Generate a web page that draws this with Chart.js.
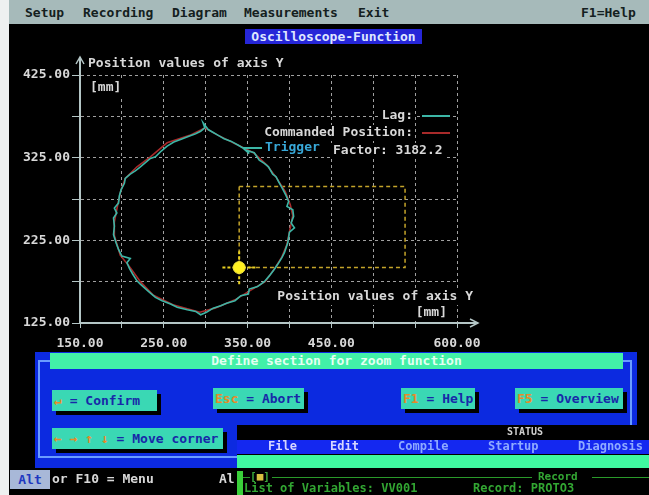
<!DOCTYPE html>
<html>
<head>
<meta charset="utf-8">
<script src="https://cdn.jsdelivr.net/npm/chart.js@4.4.1/dist/chart.umd.min.js"></script>
<style>
  html, body { margin: 0; padding: 0; width: 649px; height: 495px; overflow: hidden; background: #000;
    font-family: "DejaVu Sans Mono", "Liberation Mono", monospace; }
  #plot { position: absolute; left: 0; top: 0; z-index: 1; }
  .abs { position: absolute; white-space: pre; z-index: 2; }
  .txt { font-size: 13px; font-weight: bold; }
  .btn { background: #3ad8b4; color: #1828a8; font-size: 13px; font-weight: bold; line-height: 21px; padding-left: 2px; }
  .shadow { background: #000; }
  .hot { color: #e88a28; }
</style>
</head>
<body>
<canvas id="plot" width="649" height="495"></canvas>

<!-- left margin strip -->
<div class="abs" style="left:0;top:0;width:9px;height:495px;background:#eef0f0;"></div>

<!-- menu bar -->
<div class="abs" style="left:9px;top:0;width:640px;height:24px;background:#a6baba;"></div>
<div class="abs txt" style="left:25px;top:5px;color:#142020;">Setup</div>
<div class="abs txt" style="left:83px;top:5px;color:#142020;">Recording</div>
<div class="abs txt" style="left:172px;top:5px;color:#142020;">Diagram</div>
<div class="abs txt" style="left:244px;top:5px;color:#142020;">Measurements</div>
<div class="abs txt" style="left:358px;top:5px;color:#142020;">Exit</div>
<div class="abs txt" style="left:581px;top:5px;color:#142020;">F1=Help</div>

<!-- window title -->
<div class="abs txt" style="left:245px;top:29px;width:177px;height:15px;line-height:15px;text-align:center;background:#2626d8;color:#dfe6ff;">Oscilloscope-Function</div>

<!-- zoom dialog -->
<div class="abs" style="left:35px;top:352px;width:602px;height:116px;background:#0c2ae0;"></div>
<div class="abs" style="left:38px;top:360px;width:594px;height:98px;box-sizing:border-box;border:2px solid #6a9cff;"></div>
<div class="abs txt" style="left:50px;top:353px;width:573px;height:16px;line-height:16px;text-align:center;background:#42f0a8;color:#e4fff2;">Define section for zoom function</div>

<div class="abs shadow" style="left:56px;top:394px;width:105px;height:21px;"></div>
<div class="abs btn" style="left:52px;top:390px;width:103px;height:21px;"><span class="hot">↵</span> = Confirm</div>

<div class="abs shadow" style="left:217px;top:392px;width:91px;height:21px;"></div>
<div class="abs btn" style="left:213px;top:388px;width:89px;height:21px;"><span class="hot">Esc</span> = Abort</div>

<div class="abs shadow" style="left:405px;top:392px;width:74px;height:21px;"></div>
<div class="abs btn" style="left:401px;top:388px;width:72px;height:21px;"><span class="hot">F1</span> = Help</div>

<div class="abs shadow" style="left:519px;top:392px;width:108px;height:21px;"></div>
<div class="abs btn" style="left:515px;top:388px;width:106px;height:21px;"><span class="hot">F5</span> = Overview</div>

<div class="abs shadow" style="left:56px;top:432px;width:171px;height:21px;"></div>
<div class="abs btn" style="left:52px;top:428px;width:169px;height:21px;"><span class="hot">← → ↑ ↓</span> = Move corner</div>

<!-- bottom hint line -->
<div class="abs txt" style="left:10px;top:470px;width:40px;height:19px;line-height:19px;text-align:center;background:#a8b8d8;color:#2038c0;">Alt</div>
<div class="abs txt" style="left:52px;top:471px;color:#d8d8d8;">or F10 = Menu</div>
<div class="abs txt" style="left:219px;top:471px;color:#d8d8d8;">Al</div>

<!-- status window -->
<div class="abs" style="left:237px;top:425px;width:412px;height:70px;background:#000;"></div>
<div class="abs" style="left:507px;top:426px;font-size:10px;font-weight:bold;color:#d0d0d0;">STATUS</div>
<div class="abs" style="left:237px;top:440px;width:412px;height:14px;background:#1428f0;"></div>
<div class="abs txt" style="left:268px;top:439px;font-size:12px;color:#d6d6ff;">File</div>
<div class="abs txt" style="left:330px;top:439px;font-size:12px;color:#d6d6ff;">Edit</div>
<div class="abs txt" style="left:398px;top:439px;font-size:12px;color:#8eaaff;">Compile</div>
<div class="abs txt" style="left:488px;top:439px;font-size:12px;color:#8eaaff;">Startup</div>
<div class="abs txt" style="left:578px;top:439px;font-size:12px;color:#8eaaff;">Diagnosis</div>
<div class="abs" style="left:237px;top:455px;width:412px;height:13px;background:#40f8a0;"></div>
<div class="abs" style="left:237px;top:471px;width:6px;height:24px;background:#3ad03a;"></div>
<div class="abs" style="left:243px;top:477px;width:7px;height:0;border-top:1px solid #2a9a2a;"></div>
<div class="abs" style="left:250px;top:470px;font-size:11px;font-weight:bold;color:#3aa83a;">[<span style="color:#d8c040;">■</span>]</div>
<div class="abs" style="left:272px;top:477px;width:260px;height:0;border-top:1px solid #2a9a2a;"></div>
<div class="abs" style="left:538px;top:470px;font-size:11px;font-weight:bold;color:#34a834;">Record</div>
<div class="abs" style="left:592px;top:477px;width:57px;height:0;border-top:1px solid #2a9a2a;"></div>
<div class="abs" style="left:244px;top:481px;font-size:12px;font-weight:bold;color:#32a632;">List of Variables: VV001</div>
<div class="abs" style="left:473px;top:481px;font-size:12px;font-weight:bold;color:#32a632;">Record: PROTO3</div>

<script>
// Axis tick positions and the values that carry a printed label
const xTickValues = [150, 200, 250, 300, 350, 400, 450, 500, 550, 600];
const xLabelValues = [150, 250, 350, 450, 600];
const yTickValues = [125, 175, 225, 275, 325, 375, 425];
const yLabelValues = [125, 225, 325, 425];

// Actual (lagging) position of the Y axis, in mm
const lagX = [299,297,303,308,315,322,330,339,344,352,348,358,364,370,375,380,384,387,392,396,
              399,397,404,405,402,406,400,398,394,391,386,382,376,370,362,352,351,342,335,325,
              318,309,301,294,288,278,266,258,248,240,232,222,218,213,209,206,210,200,196,193,
              190,191,190,194,191,196,197,199,203,204,210,216,221,227,234,240,247,254,262,270,
              280,288,294,299];
const lagY = [361,367,359,356,352,348,345,340,337,330,334,331,322,318,314,305,302,296,287,279,
              272,266,262,254,246,240,235,222,210,204,196,190,182,175,169,166,160,158,152,149,
              146,143,138,135,139,141,144,148,152,156,163,172,176,184,191,198,203,206,214,222,
              232,242,252,258,264,270,279,286,294,300,305,309,313,318,324,326,333,339,344,347,
              351,354,357,361];

// Commanded position, in mm
const cmdX = [299,315,339,357,373,385,395,401,404,401,397,391,383,371,351,335,311,293,261,237,
              222,210,198,191,191,195,199,204,218,234,254,281,299];
const cmdY = [361,352,340,331,316,300,284,268,255,240,220,205,192,175,163,153,143,138,147,159,
              175,192,207,231,247,268,286,300,314,326,343,352,361];

// Zoom section currently being defined
const zoomBoxX = [340, 538, 538, 340, 340];
const zoomBoxY = [290, 290, 192, 192, 290];
const cornerX = [340];
const cornerY = [192];
const cornerArmX = [320, 360];
const cornerArmY = [172, 212];

const scaleFactor = '3182.2';

const pts = (xs, ys) => xs.map((x, i) => ({ x, y: ys[i] }));

const FONT = '"DejaVu Sans Mono", "Liberation Mono", monospace';
const TEXT = '#d8d8d8';
const LAG = '#3cb6a6';
const CMD = '#a82a2a';

// Screen texts inside the scope: axis titles, legend and trigger info
const scopeTexts = (ca) => [
  { t: 'Position values of axis Y', x: ca.left + 8, y: ca.top - 11, align: 'left', c: TEXT },
  { t: '[mm]', x: ca.left + 10, y: ca.top + 13, align: 'left', c: TEXT },
  { t: 'Position values of axis Y', x: ca.right + 16, y: ca.bottom - 26, align: 'right', c: TEXT },
  { t: '[mm]', x: ca.right - 10, y: ca.bottom - 10, align: 'right', c: TEXT },
  { t: 'Lag:', x: 413, y: ca.top + 41, align: 'right', c: TEXT },
  { t: 'Commanded Position:', x: 413, y: ca.top + 58, align: 'right', c: TEXT },
  { t: 'Trigger', x: 265, y: ca.top + 73, align: 'left', c: '#38a8d8' },
  { t: 'Factor: ' + scaleFactor, x: 333, y: ca.top + 76, align: 'left', c: TEXT }
];

const scopeDecor = {
  id: 'scopeDecor',
  beforeDatasetsDraw(chart) {
    const { ctx, chartArea: ca } = chart;
    ctx.save();
    ctx.font = 'bold 13px ' + FONT;
    ctx.fillStyle = '#000';
    for (const s of scopeTexts(ca)) {
      const w = ctx.measureText(s.t).width;
      const x0 = s.align === 'right' ? s.x - w : s.x;
      ctx.fillRect(x0 - 2, s.y - 8, w + 4, 16);
    }
    // axis extensions with arrow heads
    const xs = chart.scales.x, ys = chart.scales.y;
    const ax = xs.getPixelForValue(xs.min), ay = ys.getPixelForValue(ys.min);
    ctx.strokeStyle = '#b4c6c6';
    ctx.lineWidth = 2;
    ctx.beginPath();
    ctx.moveTo(ax, ca.top); ctx.lineTo(ax, ca.top - 17);
    ctx.moveTo(ca.right, ay); ctx.lineTo(ca.right + 20, ay);
    ctx.stroke();
    ctx.lineWidth = 1.5;
    ctx.beginPath();
    ctx.moveTo(ax - 4, ca.top - 11); ctx.lineTo(ax, ca.top - 18); ctx.lineTo(ax + 4, ca.top - 11);
    ctx.moveTo(ca.right + 13, ay - 4); ctx.lineTo(ca.right + 21, ay); ctx.lineTo(ca.right + 13, ay + 4);
    ctx.stroke();
    ctx.restore();
  },
  afterDatasetsDraw(chart) {
    const { ctx, chartArea: ca } = chart;
    ctx.save();
    ctx.font = 'bold 13px ' + FONT;
    ctx.textBaseline = 'middle';
    for (const s of scopeTexts(ca)) {
      ctx.textAlign = s.align;
      ctx.fillStyle = s.c;
      ctx.fillText(s.t, s.x, s.y);
    }
    // legend samples taken from the dataset colours
    const ds = chart.data.datasets;
    ctx.lineWidth = 2;
    ctx.strokeStyle = ds[0].borderColor;
    ctx.beginPath(); ctx.moveTo(422, ca.top + 41); ctx.lineTo(450, ca.top + 41); ctx.stroke();
    ctx.strokeStyle = ds[1].borderColor;
    ctx.beginPath(); ctx.moveTo(422, ca.top + 58); ctx.lineTo(450, ca.top + 58); ctx.stroke();
    ctx.strokeStyle = ds[0].borderColor;
    ctx.beginPath(); ctx.moveTo(243, ca.top + 73); ctx.lineTo(262, ca.top + 73); ctx.stroke();
    ctx.restore();
  }
};

new Chart(document.getElementById('plot'), {
  type: 'scatter',
  data: {
    datasets: [
      { label: 'Lag', data: pts(lagX, lagY), showLine: true, borderColor: LAG, borderWidth: 1.6,
        pointRadius: 0, tension: 0, order: 2 },
      { label: 'Commanded Position', data: pts(cmdX, cmdY), showLine: true, borderColor: CMD, borderWidth: 1.6,
        pointRadius: 0, tension: 0, order: 3 },
      { label: 'Zoom section', data: pts(zoomBoxX, zoomBoxY), showLine: true, borderColor: '#c4a42a',
        borderWidth: 1.5, borderDash: [4, 3], pointRadius: 0, order: 4 },
      { label: 'Corner H', data: pts(cornerArmX, [cornerY[0], cornerY[0]]), showLine: true, borderColor: '#e8d020',
        borderWidth: 2, borderDash: [3, 2], pointRadius: 0, order: 1 },
      { label: 'Corner V', data: pts([cornerX[0], cornerX[0]], cornerArmY), showLine: true, borderColor: '#e8d020',
        borderWidth: 2, borderDash: [3, 2], pointRadius: 0, order: 1 },
      { label: 'Corner', data: pts(cornerX, cornerY), showLine: false, pointRadius: 6,
        pointBackgroundColor: '#fff020', pointBorderColor: '#f0e040', pointBorderWidth: 1, order: 0 }
    ]
  },
  options: {
    responsive: false,
    animation: false,
    layout: { padding: { left: 0, top: 75, right: 192, bottom: 0 } },
    plugins: { legend: { display: false }, tooltip: { enabled: false } },
    scales: {
      x: {
        type: 'linear', min: 150, max: 600,
        afterBuildTicks: (s) => { s.ticks = xTickValues.map(v => ({ value: v })); },
        afterFit: (s) => { s.height = 172; },
        ticks: {
          autoSkip: false, maxRotation: 0, padding: 8, color: TEXT,
          font: { family: FONT, size: 13, weight: 'bold' },
          callback: (v) => xLabelValues.includes(v) ? v.toFixed(2) : ''
        },
        grid: { color: 'rgba(200,200,200,0.8)', lineWidth: 1, tickLength: 5, tickColor: '#b4c6c6' },
        border: { display: true, color: '#b4c6c6', width: 2, dash: [3, 3] }
      },
      y: {
        type: 'linear', min: 125, max: 425,
        afterBuildTicks: (s) => { s.ticks = yTickValues.map(v => ({ value: v })); },
        afterFit: (s) => { s.width = 80; },
        ticks: {
          autoSkip: false, padding: 2, color: TEXT,
          font: { family: FONT, size: 13, weight: 'bold' },
          callback: (v) => yLabelValues.includes(v) ? v.toFixed(2) : ''
        },
        grid: { color: 'rgba(200,200,200,0.8)', lineWidth: 1, tickLength: 8, tickColor: '#b4c6c6' },
        border: { display: true, color: '#b4c6c6', width: 2, dash: [3, 3] }
      }
    }
  },
  plugins: [scopeDecor]
});
</script>
</body>
</html>
